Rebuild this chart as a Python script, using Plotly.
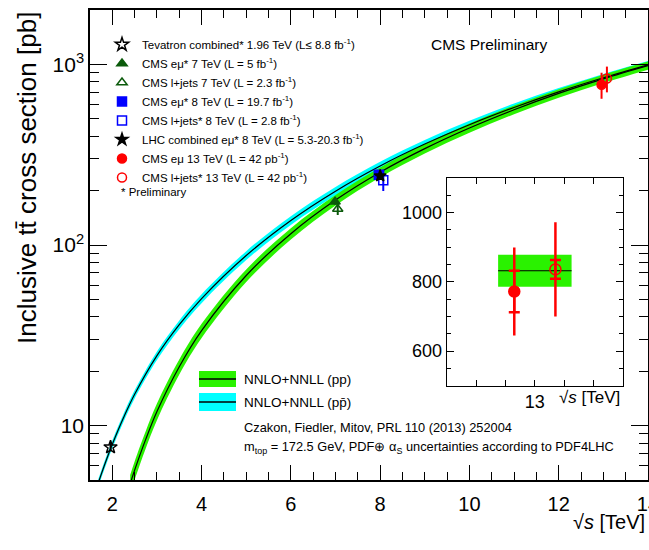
import plotly.graph_objects as go

# ---------------- theory: NNLO+NNLL (Czakon, Fiedler, Mitov), m_top = 172.5 GeV ----------------
sqrts_pp = [2.4, 2.5, 2.75, 3.0, 3.5, 4.0, 5.0, 6.0, 7.0, 8.0, 9.0, 10.0, 11.0, 12.0, 13.0, 14.0]
xsec_pp = [4.76, 5.67, 8.42, 11.98, 21.2, 33.6, 67.8, 115.5, 177.3, 252.9, 341.5, 444.3, 561.0, 691.3, 831.8, 984.5]
relunc_pp = [0.12, 0.118, 0.11, 0.105, 0.095, 0.09, 0.08, 0.072, 0.066, 0.062, 0.06, 0.058, 0.056, 0.055, 0.053, 0.052]

sqrts_ppbar = [1.6, 1.7, 1.96, 2.0, 2.25, 2.5, 3.0, 3.5, 4.0, 5.0, 6.0, 7.0, 8.0, 9.0, 10.0, 11.0, 12.0, 13.0, 14.0]
xsec_ppbar = [4.09, 4.93, 7.45, 7.89, 11.04, 14.9, 24.4, 36.2, 50.5, 87.5, 136.8, 198.7, 273.8, 362.0, 463.3, 577.4, 704.2, 843.0, 993.7]
relunc_ppbar = [0.05, 0.05, 0.05, 0.05, 0.052, 0.053, 0.055, 0.056, 0.057, 0.057, 0.056, 0.055, 0.054, 0.053, 0.052, 0.051, 0.05, 0.05, 0.05]

# ---------------- measurements ----------------
meas_names = [
    "Tevatron combined* 1.96 TeV (L\u2264 8.8 fb<sup>-1</sup>)",
    "CMS e\u03bc* 7 TeV (L = 5 fb<sup>-1</sup>)",
    "CMS l+jets 7 TeV (L = 2.3 fb<sup>-1</sup>)",
    "CMS e\u03bc* 8 TeV (L = 19.7 fb<sup>-1</sup>)",
    "CMS l+jets* 8 TeV (L = 2.8 fb<sup>-1</sup>)",
    "LHC combined e\u03bc* 8 TeV (L = 5.3-20.3 fb<sup>-1</sup>)",
    "CMS e\u03bc 13 TeV (L = 42 pb<sup>-1</sup>)",
    "CMS l+jets* 13 TeV (L = 42 pb<sup>-1</sup>)",
]
meas_sqrts = [1.96, 6.99, 7.05, 7.97, 8.07, 8.0, 12.96, 13.08]
meas_xsec = [7.60, 173.6, 158.1, 244.9, 228.4, 241.5, 772.0, 836.0]
meas_err_up = [0.41, 6.5, 11.5, 9.1, 32.0, 8.5, 127.0, 136.0]
meas_err_dn = [0.41, 6.5, 11.5, 9.1, 29.3, 8.5, 127.0, 136.0]

# x-axis tick labels
x_ticks = [2, 4, 6, 8, 10, 12, 14]

# inset (13 TeV zoom)
inset_sqrts = [12.93, 13.07]
inset_xsec = [772.0, 836.0]
inset_stat = [60.0, 27.0]
inset_tot = [127.0, 136.0]
theory13_sqrts = [12.875, 13.125]
theory13_central = 832.0
theory13_up = 878.0
theory13_dn = 786.0

# ---------------- styles ----------------
NARROW = "Liberation Sans, Arial, sans-serif"
SANS = "Liberation Sans, Arial, sans-serif"
GREEN = "#2af200"
CYAN = "#00ffff"
meas_symbols = ["star-open", "triangle-up", "triangle-up-open", "square", "square-open", "star", "circle", "circle-open"]
meas_colors = ["black", "#0b5a0b", "#0b5a0b", "#0000ff", "#0000ff", "black", "#ff0000", "#ff0000"]
meas_sizes = [10, 9, 9, 9, 9, 9, 9, 9]

# plot-area geometry in pixels (for placing decorations)
L, R, T, B = 90, 648, 10, 480
def px(x):
    return (x - L) / (R - L)
def py(y):
    return (B - y) / (B - T)

fig = go.Figure()

# bands (ppbar first, pp on top)
def add_band(xs, ys, rel, color):
    lo = [v * (1 - u) for v, u in zip(ys, rel)]
    hi = [v * (1 + u) for v, u in zip(ys, rel)]
    fig.add_trace(go.Scatter(x=xs, y=lo, mode="lines", line=dict(width=0, color=color, shape="spline"),
                             showlegend=False, hoverinfo="skip"))
    fig.add_trace(go.Scatter(x=xs, y=hi, mode="lines", line=dict(width=0, color=color, shape="spline"),
                             fill="tonexty", fillcolor=color, showlegend=False, hoverinfo="skip"))

add_band(sqrts_ppbar, xsec_ppbar, relunc_ppbar, CYAN)
add_band(sqrts_pp, xsec_pp, relunc_pp, GREEN)
fig.add_trace(go.Scatter(x=sqrts_ppbar, y=xsec_ppbar, mode="lines",
                         line=dict(color="black", width=1.2, shape="spline"), showlegend=False))
fig.add_trace(go.Scatter(x=sqrts_pp, y=xsec_pp, mode="lines",
                         line=dict(color="black", width=1.2, shape="spline"), showlegend=False))

# measurements
for i in range(len(meas_names)):
    fig.add_trace(go.Scatter(
        x=[meas_sqrts[i]], y=[meas_xsec[i]], mode="markers", name=meas_names[i],
        marker=dict(symbol=meas_symbols[i], color=meas_colors[i], size=meas_sizes[i],
                    line=dict(color=meas_colors[i], width=1.5)),
        error_y=dict(type="data", symmetric=False, array=[meas_err_up[i]], arrayminus=[meas_err_dn[i]],
                     color=meas_colors[i], thickness=2, width=0),
        legend="legend",
    ))

# ---------------- inset ----------------
fig.add_trace(go.Bar(x=[13.0], y=[theory13_up - theory13_dn], base=[theory13_dn], width=0.25,
                     marker=dict(color=GREEN, line=dict(width=0)), xaxis="x2", yaxis="y2", showlegend=False))
fig.add_trace(go.Scatter(x=theory13_sqrts, y=[theory13_central] * len(theory13_sqrts), mode="lines",
                         line=dict(color="black", width=1.2), xaxis="x2", yaxis="y2", showlegend=False))
inset_symbols = ["circle", "circle-open"]
for i in range(len(inset_sqrts)):
    fig.add_trace(go.Scatter(x=[inset_sqrts[i]], y=[inset_xsec[i]], mode="markers", xaxis="x2", yaxis="y2",
                             marker=dict(symbol=inset_symbols[i], color="#ff0000", size=11,
                                         line=dict(color="#ff0000", width=1.5)),
                             error_y=dict(type="data", array=[inset_tot[i]], color="#ff0000", thickness=2.5, width=0),
                             showlegend=False))
    fig.add_trace(go.Scatter(x=[inset_sqrts[i]], y=[inset_xsec[i]], mode="markers", xaxis="x2", yaxis="y2",
                             marker=dict(symbol=inset_symbols[i], color="#ff0000", size=11, opacity=0),
                             error_y=dict(type="data", array=[inset_stat[i]], color="#ff0000", thickness=2.5, width=5.5),
                             showlegend=False))

# ---------------- layout ----------------
axis_common = dict(showline=True, linecolor="black", linewidth=1.5, mirror="ticks", ticks="inside",
                   tickcolor="black", showgrid=False, zeroline=False, automargin=False)

fig.update_layout(
    width=649, height=550,
    margin=dict(l=L, r=649 - R, t=T, b=550 - B, autoexpand=False),
    paper_bgcolor="white", plot_bgcolor="white",
    barmode="overlay",
    xaxis=dict(range=[1.5, 14.0005], tickvals=x_ticks, ticklen=15, tickwidth=1.2,
               tickfont=dict(family=NARROW, size=20, color="black"), ticklabelstandoff=5,
               ticklabeloverflow="allow",
               minor=dict(dtick=0.5, tick0=0, ticks="inside", ticklen=8, tickcolor="black", tickwidth=1),
               **axis_common),
    yaxis=dict(type="log", range=[0.69897, 3.30103], tickvals=[10, 100, 1000], ticktext=["10", "10<sup>2</sup>", "10<sup>3</sup>"],
               ticklen=17, tickwidth=1.2, tickfont=dict(family=NARROW, size=21, color="black"),
               minor=dict(tickvals=[5, 6, 7, 8, 9, 20, 30, 40, 50, 60, 70, 80, 90, 200, 300, 400, 500, 600, 700, 800, 900, 2000],
                          ticks="inside", ticklen=9, tickcolor="black", tickwidth=1),
               **axis_common),
    xaxis2=dict(domain=[px(446.7), px(623)], anchor="y2", range=[12.7, 13.3],
                tickvals=[12.8, 12.9, 13.0, 13.1, 13.2], ticktext=["", "", "13", "", ""], ticklen=6, tickwidth=1,
                tickfont=dict(family=NARROW, size=18, color="black"),
                **{**axis_common, "linewidth": 1.2}),
    yaxis2=dict(domain=[py(385.7), py(178)], anchor="x2", range=[500, 1100], tickvals=[600, 800, 1000],
                ticklen=7, tickwidth=1, tickfont=dict(family=NARROW, size=18, color="black"),
                minor=dict(dtick=50, tick0=0, ticks="inside", ticklen=4, tickcolor="black", tickwidth=1),
                **{**axis_common, "linewidth": 1.2}),
    legend=dict(x=px(102), y=py(30), xanchor="left", yanchor="top", bgcolor="rgba(0,0,0,0)",
                traceorder="normal",
                font=dict(family=NARROW, size=11.5, color="black"), tracegroupgap=0, itemwidth=30),
    showlegend=True,
)

shapes = [
    dict(type="rect", xref="paper", yref="paper", x0=px(199), x1=px(236), y0=py(387), y1=py(371),
         fillcolor=GREEN, line=dict(width=0)),
    dict(type="line", xref="paper", yref="paper", x0=px(199), x1=px(236), y0=py(379), y1=py(379),
         line=dict(color="black", width=1.5)),
    dict(type="rect", xref="paper", yref="paper", x0=px(199), x1=px(236), y0=py(411), y1=py(393),
         fillcolor=CYAN, line=dict(width=0)),
    dict(type="line", xref="paper", yref="paper", x0=px(199), x1=px(236), y0=py(402), y1=py(402),
         line=dict(color="black", width=1.5)),
]
fig.update_layout(shapes=shapes)

def ann(text, x, y, size, family=NARROW, xanchor="left", yanchor="middle", angle=0):
    fig.add_annotation(text=text, xref="paper", yref="paper", x=x, y=y, showarrow=False,
                       xanchor=xanchor, yanchor=yanchor, textangle=angle,
                       font=dict(family=family, size=size, color="black"))

ann("* Preliminary", px(119), py(192), 11.5)
ann("CMS Preliminary", px(489), py(44), 15.5, xanchor="center")
ann("NNLO+NNLL (pp)", px(242), py(379), 13.5)
ann("NNLO+NNLL (pp\u0304)", px(242), py(402), 13.5)
ann("Czakon, Fiedler, Mitov, PRL 110 (2013) 252004", px(242), py(427), 12.8)
ann("m<sub>top</sub> = 172.5 GeV, PDF\u2295 \u03b1<sub>S</sub> uncertainties according to PDF4LHC", px(242), py(447), 12.8)
ann("Inclusive tt\u0304 cross section [pb]", px(27), 1.0, 26, family=SANS, xanchor="center", yanchor="top", angle=-90)
ann("\u221a<i>s</i> [TeV]", px(647), py(522), 20, xanchor="right")
ann("\u221a<i>s</i> [TeV]", px(622), py(397), 17, xanchor="right")

fig.write_html("out.html")
